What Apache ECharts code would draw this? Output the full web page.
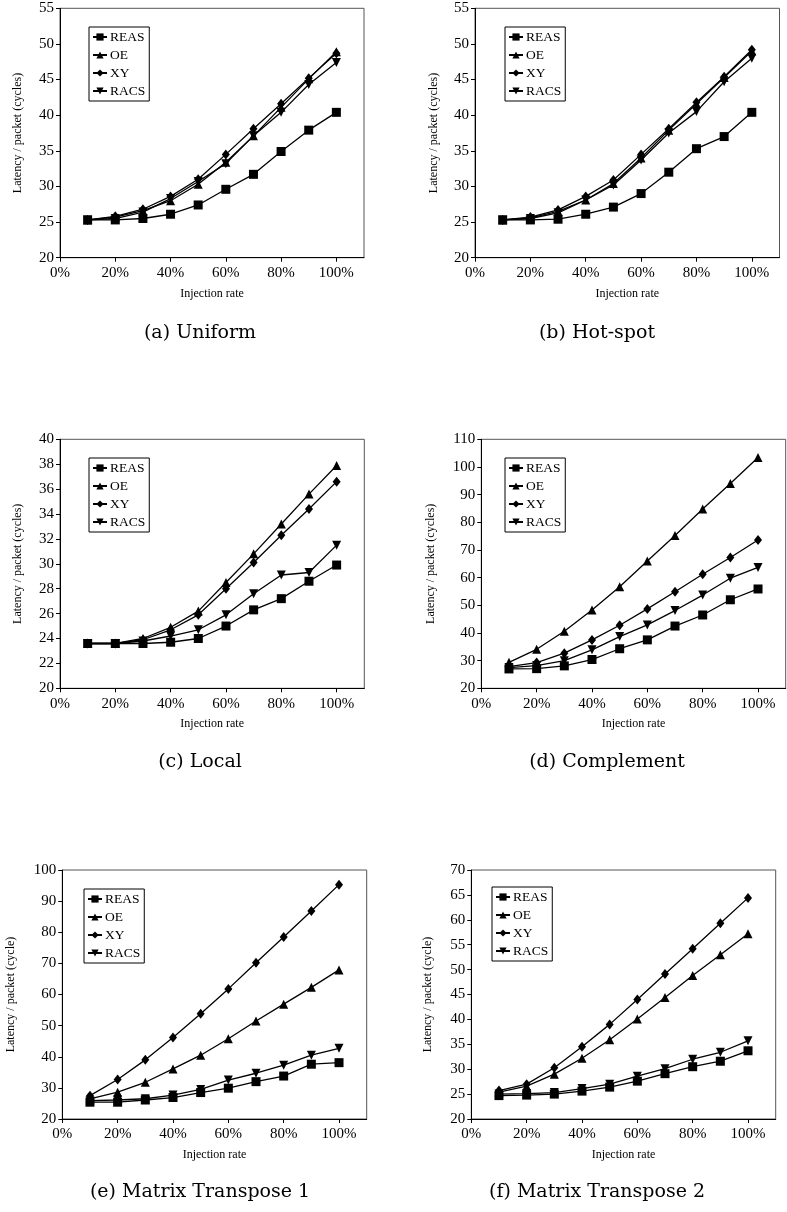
<!DOCTYPE html>
<html>
<head>
<meta charset="utf-8">
<title>Latency / packet vs injection rate</title>
<script src="https://cdn.jsdelivr.net/npm/echarts@6/dist/echarts.min.js"></script>
<style>
    html, body { margin: 0; padding: 0; background: #fff; }
    #main { width: 787px; height: 1212px; }
</style>
</head>
<body>
<div id="main"></div>
<script>
    // x values (injection rate, %)
    var rates = [10, 20, 30, 40, 50, 60, 70, 80, 90, 100];
    var names = ['REAS', 'OE', 'XY', 'RACS'];

    // (a) Uniform
    var uniformReas = [25.3, 25.3, 25.5, 26.1, 27.4, 29.6, 31.7, 34.9, 37.9, 40.4];
    var uniformOe   = [25.3, 25.7, 26.6, 28.0, 30.3, 33.4, 37.1, 41.1, 45.1, 48.9];
    var uniformXy   = [25.3, 25.8, 26.8, 28.6, 31.0, 34.5, 38.1, 41.6, 45.2, 48.7];
    var uniformRacs = [25.3, 25.5, 26.4, 28.3, 30.7, 33.2, 37.1, 40.4, 44.3, 47.4];

    // (b) Hot-spot
    var hotReas = [25.3, 25.3, 25.4, 26.1, 27.1, 29.0, 32.0, 35.3, 37.0, 40.4];
    var hotOe   = [25.3, 25.6, 26.5, 28.1, 30.4, 34.0, 37.9, 41.6, 45.3, 49.0];
    var hotXy   = [25.3, 25.7, 26.7, 28.6, 30.9, 34.5, 38.1, 41.8, 45.4, 49.2];
    var hotRacs = [25.3, 25.5, 26.3, 28.1, 30.2, 33.7, 37.5, 40.5, 44.7, 48.0];

    // (c) Local
    var localReas = [23.6, 23.6, 23.6, 23.7, 24.0, 25.0, 26.3, 27.2, 28.6, 29.9];
    var localOe   = [23.6, 23.6, 24.0, 24.9, 26.2, 28.5, 30.8, 33.2, 35.6, 37.9];
    var localXy   = [23.6, 23.6, 23.9, 24.7, 25.9, 28.0, 30.1, 32.3, 34.4, 36.6];
    var localRacs = [23.6, 23.6, 23.8, 24.2, 24.7, 25.9, 27.6, 29.1, 29.3, 31.5];

    // (d) Complement
    var compReas = [27.0, 27.1, 28.1, 30.4, 34.3, 37.5, 42.5, 46.5, 52.0, 55.9];
    var compOe   = [29.4, 34.1, 40.6, 48.3, 56.7, 66.0, 75.2, 84.8, 94.0, 103.4];
    var compXy   = [27.8, 29.3, 32.7, 37.5, 42.8, 48.7, 54.9, 61.2, 67.3, 73.6];
    var compRacs = [27.5, 28.2, 30.0, 33.9, 38.7, 42.9, 48.1, 53.7, 59.8, 63.7];

    // (e) Matrix Transpose 1
    var mt1Reas = [25.4, 25.4, 26.1, 26.9, 28.5, 29.9, 32.0, 33.8, 37.6, 38.1];
    var mt1Oe   = [26.5, 28.6, 31.8, 36.1, 40.5, 45.8, 51.5, 56.9, 62.3, 67.9];
    var mt1Xy   = [27.5, 32.7, 39.0, 46.2, 53.8, 61.8, 70.2, 78.5, 86.8, 95.3];
    var mt1Racs = [25.9, 26.1, 26.5, 27.7, 29.5, 32.5, 34.7, 37.3, 40.5, 42.7];

    // (f) Matrix Transpose 2
    var mt2Reas = [24.7, 24.8, 25.0, 25.6, 26.4, 27.6, 29.1, 30.5, 31.6, 33.7];
    var mt2Oe   = [25.4, 26.6, 29.0, 32.2, 35.9, 40.1, 44.4, 48.8, 53.0, 57.2];
    var mt2Xy   = [25.7, 27.0, 30.3, 34.5, 39.0, 44.0, 49.1, 54.2, 59.3, 64.4];
    var mt2Racs = [25.0, 25.1, 25.3, 26.1, 27.0, 28.6, 30.1, 32.0, 33.4, 35.7];

    // y axis ranges [min, max, interval]
    var uniformRange = [20, 55, 5];
    var hotRange     = [20, 55, 5];
    var localRange   = [20, 40, 2];
    var compRange    = [20, 110, 10];
    var mt1Range     = [20, 100, 10];
    var mt2Range     = [20, 70, 5];

    var captions = ['(a) Uniform', '(b) Hot-spot', '(c) Local', '(d) Complement',
        '(e) Matrix Transpose 1', '(f) Matrix Transpose 2'];
    var yTitles = ['Latency / packet (cycles)', 'Latency / packet (cycles)', 'Latency / packet (cycles)',
        'Latency / packet (cycles)', 'Latency / packet (cycle)', 'Latency / packet (cycle)'];

    init()

    function init() {
        var myChart = echarts.init(document.getElementById('main'));
        myChart.setOption(build());
    }

    function build() {
        var serif = 'Liberation Serif';
        // layout of each panel
        var panels = [
            { grid: [60, 8.3, 304, 249.4], legend: [89, 27], cap: [200, 333], gap: 36, sets: [uniformReas, uniformOe, uniformXy, uniformRacs], range: uniformRange },
            { grid: [475, 8.3, 304.5, 249.4], legend: [505, 27], cap: [597, 333], gap: 35, sets: [hotReas, hotOe, hotXy, hotRacs], range: hotRange },
            { grid: [60, 439.3, 304.3, 249], legend: [89, 458], cap: [200, 762], gap: 36, sets: [localReas, localOe, localXy, localRacs], range: localRange },
            { grid: [481.3, 439.3, 304.4, 249], legend: [505, 458], cap: [607, 762], gap: 44, sets: [compReas, compOe, compXy, compRacs], range: compRange },
            { grid: [62.3, 870, 304.4, 249], legend: [84, 889], cap: [200, 1192], gap: 45, sets: [mt1Reas, mt1Oe, mt1Xy, mt1Racs], range: mt1Range },
            { grid: [471.3, 870, 304.4, 249], legend: [492, 887], cap: [597, 1192], gap: 37, sets: [mt2Reas, mt2Oe, mt2Xy, mt2Racs], range: mt2Range }
        ];
        var symbols = ['rect', 'triangle', 'diamond', 'triangle'];
        var rotates = [0, 0, 0, 180];
        var sizes = [9, 9, [8, 10], 9];

        var grid = [], xAxis = [], yAxis = [], legend = [], series = [], graphic = [];
        panels.forEach(function(p, i) {
            grid.push({
                left: p.grid[0], top: p.grid[1], width: p.grid[2], height: p.grid[3],
                show: true, borderColor: '#555', borderWidth: 1, backgroundColor: '#fff'
            });
            xAxis.push({
                type: 'value', gridIndex: i, min: 0, max: 110, interval: 20,
                name: 'Injection rate', nameLocation: 'middle', nameGap: 30,
                nameTextStyle: { fontFamily: serif, fontSize: 12, color: '#000' },
                axisLine: { lineStyle: { color: '#000', width: 1 } },
                axisTick: { length: 4, lineStyle: { color: '#000' } },
                splitLine: { show: false },
                axisLabel: {
                    fontFamily: serif, fontSize: 15, color: '#000', margin: 8,
                    showMaxLabel: false,
                    formatter: '{value}%'
                }
            });
            yAxis.push({
                type: 'value', gridIndex: i, min: p.range[0], max: p.range[1], interval: p.range[2],
                name: yTitles[i], nameLocation: 'middle', nameGap: p.gap,
                nameTextStyle: { fontFamily: serif, fontSize: 12, color: '#000' },
                axisLine: { show: true, lineStyle: { color: '#000', width: 1 } },
                axisTick: { show: true, length: 4, lineStyle: { color: '#000' } },
                splitLine: { show: false },
                axisLabel: { fontFamily: serif, fontSize: 15, color: '#000', margin: 6 }
            });
            legend.push({
                left: p.legend[0], top: p.legend[1], orient: 'vertical',
                data: names, itemWidth: 14, itemHeight: 9, itemGap: 4,
                padding: [3, 4, 3, 3], borderColor: '#000', borderWidth: 1,
                backgroundColor: '#fff', selectedMode: false,
                textStyle: { fontFamily: serif, fontSize: 13.5, color: '#000', padding: [0, 0, 0, -2] }
            });
            p.sets.forEach(function(vals, j) {
                series.push({
                    type: 'line', name: names[j], xAxisIndex: i, yAxisIndex: i,
                    data: rates.map(function(r, k) { return [r, vals[k]]; }),
                    symbol: symbols[j], symbolSize: sizes[j], symbolRotate: rotates[j],
                    showAllSymbol: true,
                    lineStyle: { color: '#000', width: 1.3 },
                    itemStyle: { color: '#000' },
                    emphasis: { disabled: true }
                });
            });
            graphic.push({
                type: 'text', x: p.cap[0], y: p.cap[1],
                style: {
                    text: captions[i], fill: '#000', font: '19px "DejaVu Serif"',
                    textAlign: 'center', textVerticalAlign: 'middle'
                }
            });
        });

        return {
            animation: false,
            backgroundColor: '#fff',
            grid: grid,
            xAxis: xAxis,
            yAxis: yAxis,
            legend: legend,
            series: series,
            graphic: graphic
        };
    }
</script>
</body>
</html>
